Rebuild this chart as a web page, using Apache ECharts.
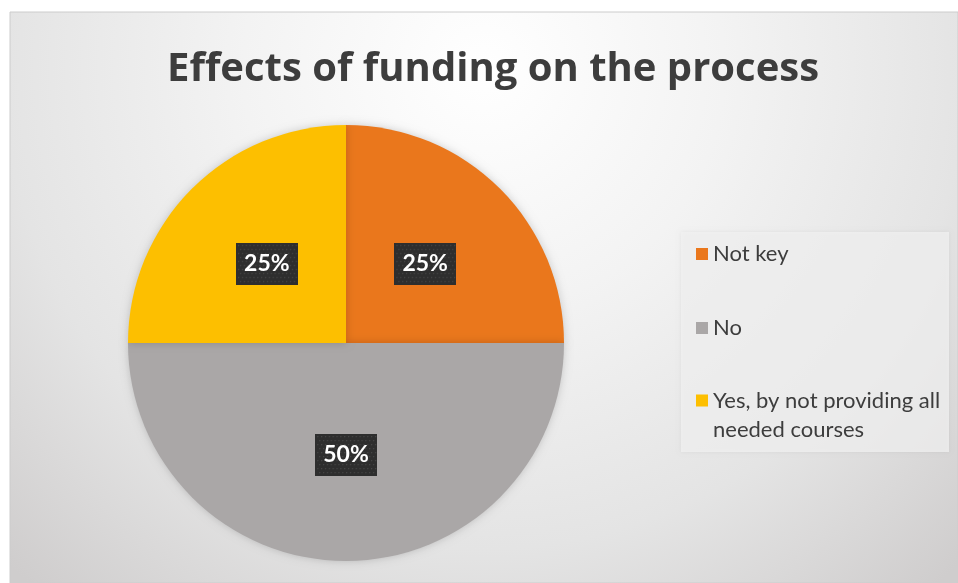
<!DOCTYPE html>
<html>
<head>
<meta charset="utf-8">
<script src="https://cdn.jsdelivr.net/npm/echarts@6/dist/echarts.min.js"></script>
<style>
  html, body { margin: 0; padding: 0; background: #ffffff; }
  #chart { width: 958px; height: 583px; }
</style>
</head>
<body>
<div id="chart"></div>
<script>
// Survey answers: did funding affect the process?
const chartTitle = 'Effects of funding on the process';
const categories = ['Not key', 'No', 'Yes, by not providing all needed courses'];
const values = [1, 2, 1];
const colors = ['#EA771C', '#AAA7A7', '#FDBF00'];
// Legend text, wrapped the way it is shown in the panel
const legendLabels = ['Not key', 'No', 'Yes, by not providing all\nneeded courses'];

const FONT = 'Lato, "Open Sans", sans-serif';
const TITLE_FONT = '"Open Sans", Lato, sans-serif';
const TEXT_COLOR = '#3d3d3d';

// Small dotted dark tile used behind the percentage labels
function labelTile(w, h) {
  const c = document.createElement('canvas');
  c.width = w; c.height = h;
  const g = c.getContext('2d');
  g.fillStyle = '#2e2e2e';
  g.fillRect(0, 0, w, h);
  g.fillStyle = '#454545';
  for (let y = 2; y < h; y += 4) {
    for (let x = (y % 8 === 2 ? 2 : 4); x < w; x += 4) {
      g.fillRect(x, y, 1.3, 1.3);
    }
  }
  return c;
}

const chart = echarts.init(document.getElementById('chart'), null, { renderer: 'canvas' });

const pieData = categories.map((name, i) => ({
  name: name,
  value: values[i],
  itemStyle: { color: colors[i] }
}));

// One legend block per entry; a wrapped entry gets a leading blank line so
// its swatch sits beside the first line of text
const legendTops = [241, 315, 357];
const legends = categories.map((name, i) => {
  const twoLine = legendLabels[i].indexOf('\n') >= 0;
  return {
    show: true,
    orient: 'vertical',
    left: 696,
    top: legendTops[i],
    padding: 0,
    itemWidth: 12,
    itemHeight: 12,
    itemGap: 0,
    icon: 'rect',
    selectedMode: false,
    data: [{ name: name, icon: 'rect' }],
    formatter: () => (twoLine ? '\n' : '') + legendLabels[i],
    textStyle: {
      fontFamily: FONT,
      fontSize: 22,
      color: TEXT_COLOR,
      lineHeight: twoLine ? 29 : 26
    }
  };
});

const option = {
  animation: false,
  backgroundColor: '#ffffff',
  graphic: [
    {
      type: 'rect',
      z: -10,
      silent: true,
      shape: { x: 10, y: 12, width: 948, height: 571 },
      style: {
        fill: {
          type: 'radial', x: 0.5, y: 0.1, r: 1.2,
          colorStops: [
            { offset: 0, color: '#ffffff' },
            { offset: 0.35, color: '#f3f3f3' },
            { offset: 0.7, color: '#e4e4e4' },
            { offset: 1, color: '#cfcdcd' }
          ]
        },
        stroke: '#cccccc',
        lineWidth: 1
      }
    },
    {
      type: 'rect',
      z: -5,
      silent: true,
      shape: { x: 681, y: 232, width: 268, height: 220 },
      style: {
        fill: 'rgba(242,242,242,0.75)',
        shadowBlur: 4,
        shadowColor: 'rgba(0,0,0,0.08)'
      }
    }
  ],
  title: {
    text: chartTitle,
    left: 162,
    top: 45,
    textStyle: {
      fontFamily: TITLE_FONT,
      fontSize: 40,
      fontWeight: 'bold',
      color: TEXT_COLOR
    }
  },
  legend: legends,
  series: [
    {
      type: 'pie',
      center: [346, 343],
      radius: 218,
      startAngle: 90,
      clockwise: true,
      silent: true,
      itemStyle: {
        shadowBlur: 8,
        shadowColor: 'rgba(0,0,0,0.18)'
      },
      label: {
        show: true,
        position: 'inside',
        formatter: '{d}%',
        fontFamily: FONT,
        fontSize: 23,
        fontWeight: 'bold',
        color: '#ffffff',
        lineHeight: 26,
        padding: [8, 8, 8, 8],
        backgroundColor: { image: labelTile(64, 42) },
        shadowBlur: 6,
        shadowOffsetX: 3,
        shadowOffsetY: 3,
        shadowColor: 'rgba(0,0,0,0.35)'
      },
      labelLine: { show: false },
      emphasis: { disabled: true },
      data: pieData
    }
  ]
};

chart.setOption(option);
</script>
</body>
</html>
